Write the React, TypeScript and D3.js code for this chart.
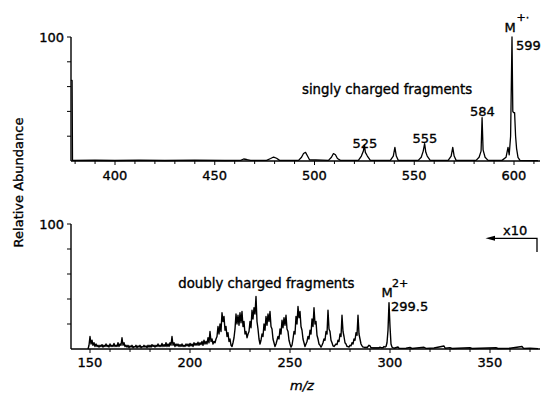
import React from 'react';
import * as d3 from 'd3';

// singly charged region (m/z, relative abundance %)
const singlyPeaks: [number, number][] = [
  [377.9, 65], [378.5, 65], [378.7, 0.5],
  [390, 0.6], [400, 0.4], [412, 0.7], [425, 0.4], [440, 0.7], [455, 0.4],
  [463, 0.5], [464.5, 1.6], [466, 1.2], [468, 0.5],
  [476, 0.5], [478, 2], [479.5, 3.2], [481, 2.2], [482.5, 0.5],
  [492, 0.5], [493.5, 3], [494.5, 6], [495.5, 7], [496.5, 4], [497.5, 1],
  [507, 0.5], [508.5, 3], [509.5, 6], [510.5, 5], [511.5, 2], [513, 0.5],
  [522, 0.5], [523.5, 4], [524.5, 8], [525, 13], [525.5, 7], [526.5, 4], [528, 0.5],
  [538, 0.5], [539.5, 4], [540.3, 11], [541, 4], [542, 0.5],
  [552, 0.5], [553.5, 3], [554.5, 8], [555.2, 14], [555.8, 7], [556.5, 4], [558, 0.5],
  [567, 0.5], [568.5, 4], [569.3, 11], [570, 4], [571, 0.5],
  [581, 0.5], [582.5, 3], [583.5, 8], [584, 35], [584.5, 9], [585.5, 3], [587, 0.5],
  [594, 0.5], [596, 3], [597, 11], [597.6, 5], [598.3, 20], [599, 100], [599.4, 40],
  [599.8, 39], [600.3, 39], [600.8, 20], [601.3, 10], [602, 3], [603, 0.5], [612, 0.3],
];

// doubly charged region, x10 (values every 0.5 m/z starting at 149)
const doublyStart = 149;
const doublyStep = 0.5;
const doublyValues = [
  0, 3, 10, 4, 7, 3, 5, 2, 4, 2, 3, 1.5, 3, 2, 3.5, 1.5, 3, 2, 4, 2,
  3, 1.5, 4, 2, 3, 2, 4.5, 2, 3, 2, 5, 2, 4, 3, 9, 3, 5, 2, 3, 1.5,
  3, 1, 2.5, 1.5, 3, 1, 2, 1.5, 3, 1, 2.5, 1.5, 3, 1, 2, 1.5, 3, 1.5, 2.5, 1,
  3, 1.5, 3, 1.5, 3.5, 2, 3, 1.5, 3, 2, 4, 2, 3, 2, 4.5, 2, 3.5, 2, 5, 2,
  4, 2, 5, 3, 10, 3, 5, 2, 4, 2.5, 4, 2, 3.5, 2, 4, 2, 3, 2, 4, 2.5,
  4, 2, 4.5, 2.5, 4, 2, 5, 3, 4.5, 3, 5.5, 3, 5, 3.5, 6, 3, 7, 4, 6, 4,
  9, 5, 14, 6, 8, 4, 6, 5, 8, 10, 18, 12,
  20, 14, 29, 22, 26, 15, 18, 10, 13, 6, 8, 3, 2, 5, 9, 16,
  28, 20, 27, 19, 29, 21, 30, 18, 22, 12, 14, 9, 12, 14, 22, 17,
  31, 24, 33, 28, 42, 22, 16, 8, 4, 7, 12, 10, 20, 15, 26, 19,
  28, 22, 30, 18, 16, 8, 5, 2, 4, 7, 10, 8, 16, 12, 23, 17,
  25, 19, 27, 16, 14, 7, 4, 1.5, 3, 8, 14, 12, 26, 20, 34, 25,
  30, 18, 15, 8, 5, 2, 4, 6, 10, 8, 15, 12, 24, 18, 33, 20,
  22, 11, 8, 4, 3, 1.5, 3, 5, 8, 7, 14, 12, 31, 16, 14, 7,
  5, 2.5, 2, 3, 4, 3.5, 7, 6, 12, 10, 27, 14, 10, 5, 4, 2,
  2, 1.5, 3, 2.5, 5, 4, 8, 7, 13, 11, 27, 12, 8, 4, 2.5, 1.5,
  1.5, 1, 1.5, 1, 2, 3, 2.5, 1, 1, 0.8, 1, 0.8, 1, 0.8, 1, 0.8,
  1.5, 1, 1, 1, 2, 1.5, 2, 5, 15, 37, 18,
];
const doublyTail: [number, number][] = [
  [300.5, 4], [301, 1.5], [302, 0.6], [304, 1.6], [304.6, 0.5], [308, 0.6], [310, 1.2],
  [311, 0.4], [317, 1.4], [318, 0.5], [322, 0.8], [327, 2.4], [327.6, 0.6], [330, 1.1],
  [331, 0.4], [340, 1], [341, 0.4], [353, 1], [354, 0.4], [360, 0.6], [366, 2],
  [366.8, 0.5], [370, 0.6], [374, 0.3],
];

const topMajor = [400, 450, 500, 550, 600];
const bottomMajor = [150, 200, 250, 300, 350];
const yTicks = [20, 40, 60, 80, 100];

const font = '"DejaVu Sans", sans-serif';
// scanned print looks heavy, so give text a hairline outline
const ink = { fill: '#000', stroke: '#000', strokeWidth: 0.35, fontFamily: font };

export default function App() {
  const xTop = d3.scaleLinear().domain([400, 600]).range([115, 514]);
  const yTop = d3.scaleLinear().domain([0, 100]).range([161, 37]);
  const xBot = d3.scaleLinear().domain([150, 350]).range([90, 490]);
  const yBot = d3.scaleLinear().domain([0, 100]).range([349, 224]);

  const doublyPoints: [number, number][] = doublyValues
    .map((v, i) => [doublyStart + i * doublyStep, v] as [number, number])
    .concat(doublyTail);

  const lineTop = d3.line<[number, number]>().x(d => xTop(d[0])).y(d => yTop(d[1]));
  const lineBot = d3.line<[number, number]>().x(d => xBot(d[0])).y(d => yBot(d[1]));

  const topMinor = d3.range(380, 611, 10);
  const botMinor = d3.range(150, 371, 10);

  const axisX0 = 71;
  const axisX1 = 540;

  const panel = (
    x: d3.ScaleLinear<number, number>,
    y: d3.ScaleLinear<number, number>,
    minor: number[],
    major: number[],
    labelY: number
  ) => (
    <g>
      <line x1={axisX0} x2={axisX0} y1={y(100)} y2={y(0)} stroke="#000" strokeWidth={1.4} />
      <line x1={axisX0} x2={axisX1} y1={y(0)} y2={y(0)} stroke="#000" strokeWidth={1.4} />
      {yTicks.map(t => (
        <line key={t} x1={axisX0 - 4} x2={axisX0} y1={y(t)} y2={y(t)} stroke="#000" strokeWidth={1} />
      ))}
      <text x={64} y={y(100) + 4.5} textAnchor="end" fontSize={13} {...ink}>100</text>
      {minor.map(t => (
        <line key={t} x1={x(t)} x2={x(t)} y1={y(0)} y2={y(0) + (major.includes(t) ? 4 : 3)} stroke="#000" strokeWidth={1} />
      ))}
      {major.map(t => (
        <text key={t} x={x(t)} y={labelY} textAnchor="middle" fontSize={13} {...ink}>{t}</text>
      ))}
    </g>
  );

  return (
    <svg width={541} height={395} style={{ position: 'absolute', left: 0, top: 0, background: '#fff' }}>
      {panel(xTop, yTop, topMinor, topMajor, 179.5)}
      {panel(xBot, yBot, botMinor, bottomMajor, 366.7)}

      <path d={lineTop(singlyPeaks) || ''} fill="none" stroke="#000" strokeWidth={1.3} strokeLinejoin="round" />
      <path d={lineBot(doublyPoints) || ''} fill="none" stroke="#000" strokeWidth={1.4} strokeLinejoin="round" />

      {/* top annotations */}
      <text x={302} y={94} fontSize={13.3} {...ink}>singly charged fragments</text>
      <text x={365} y={148} textAnchor="middle" fontSize={13} {...ink}>525</text>
      <text x={425} y={142.7} textAnchor="middle" fontSize={13} {...ink}>555</text>
      <text x={482.5} y={116} textAnchor="middle" fontSize={13} {...ink}>584</text>
      <text x={516} y={50} fontSize={13} {...ink}>599</text>
      <text x={504.5} y={31.7} fontSize={13} {...ink}>M</text>
      <text x={516.5} y={21} fontSize={11} {...ink}>+·</text>

      {/* bottom annotations */}
      <text x={178.3} y={288} fontSize={13.3} {...ink}>doubly charged fragments</text>
      <text x={381.5} y={297} fontSize={13} {...ink}>M</text>
      <text x={392} y={287} fontSize={11} {...ink}>2+</text>
      <text x={391} y={310.7} fontSize={13} {...ink}>299.5</text>
      <text x={503} y={235} fontSize={13} {...ink}>x10</text>
      <polyline points="494,238.3 537,238.3 537,252" fill="none" stroke="#000" strokeWidth={1.3} />
      <path d="M485.5,238.3 L495,235.8 L495,240.8 Z" fill="#000" />

      {/* axis titles */}
      <text transform="translate(23,182.5) rotate(-90)" textAnchor="middle" fontSize={13} {...ink}>Relative Abundance</text>
      <text x={302} y={390} textAnchor="middle" fontSize={13} fontStyle="italic" {...ink}>m/z</text>
    </svg>
  );
}
